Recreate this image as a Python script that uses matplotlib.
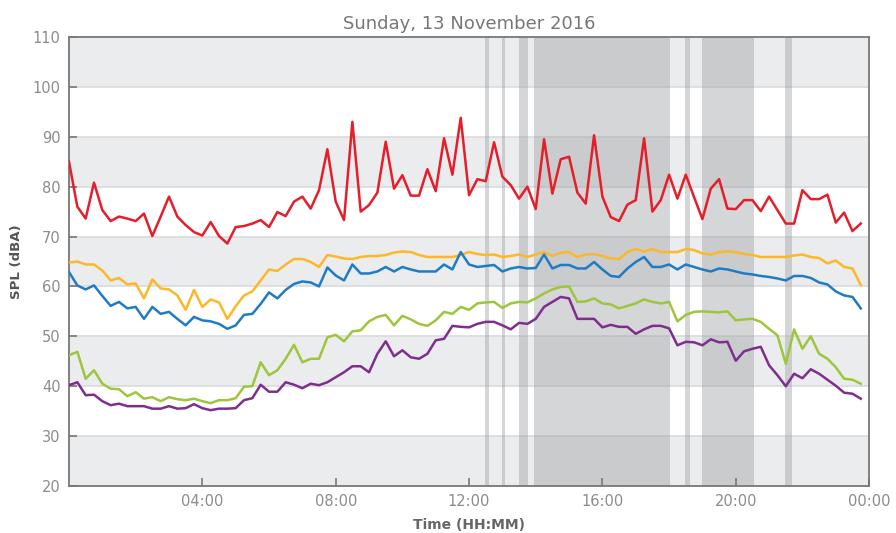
import matplotlib
matplotlib.use("Agg")
import matplotlib.pyplot as plt
import numpy as np

# ---- data (15-minute samples, 00:00 .. 23:45) ----
step_hours = 0.25
red = [85.0, 76.0, 73.6, 80.8, 75.3, 73.1, 74.0, 73.6, 73.1, 74.6, 70.1, 74.0, 78.0, 74.0, 72.3, 70.9,
       70.2, 72.9, 70.1, 68.6, 71.9, 72.1, 72.6, 73.3, 71.9, 74.9, 74.1, 77.0, 78.0, 75.6, 79.3, 87.5,
       77.0, 73.3, 93.0, 75.0, 76.3, 78.8, 89.0, 79.6, 82.3, 78.2, 78.2, 83.5, 79.1, 89.7, 82.4, 93.8,
       78.3, 81.5, 81.1, 88.9, 82.0, 80.3, 77.6, 80.0, 75.5, 89.5, 78.6, 85.5, 86.0, 78.8, 76.6, 90.3,
       78.0, 73.9, 73.1, 76.4, 77.3, 89.7, 75.0, 77.3, 82.4, 77.6, 82.4, 77.9, 73.5, 79.6, 81.5, 75.6,
       75.5, 77.3, 77.3, 75.1, 78.0, 75.3, 72.6, 72.6, 79.3, 77.5, 77.5, 78.4, 72.8, 74.8, 71.1, 72.6]
orange = [64.8, 65.0, 64.4, 64.4, 63.2, 61.2, 61.7, 60.4, 60.6, 57.6, 61.4, 59.6, 59.4, 58.2, 55.3, 59.3,
          55.9, 57.4, 56.8, 53.5, 56.0, 58.2, 59.0, 61.2, 63.4, 63.1, 64.4, 65.5, 65.5, 64.9, 63.9, 66.3,
          66.0, 65.6, 65.5, 65.9, 66.1, 66.1, 66.3, 66.8, 67.0, 66.9, 66.3, 65.9, 65.9, 65.9, 65.9, 66.3,
          66.9, 66.5, 66.3, 66.4, 65.9, 66.1, 66.4, 65.9, 66.4, 66.9, 66.1, 66.8, 66.9, 65.9, 66.4, 66.5,
          66.1, 65.6, 65.5, 66.9, 67.5, 67.0, 67.5, 66.9, 66.9, 66.9, 67.5, 67.3, 66.6, 66.4, 66.9, 67.0,
          66.9, 66.5, 66.3, 65.9, 65.9, 65.9, 65.9, 66.2, 66.4, 65.9, 65.7, 64.6, 65.2, 63.9, 63.6, 60.3]
blue = [62.9, 60.2, 59.4, 60.2, 58.1, 56.1, 56.9, 55.6, 55.9, 53.5, 55.9, 54.5, 54.9, 53.5, 52.2, 53.9,
        53.2, 53.0, 52.5, 51.5, 52.2, 54.3, 54.5, 56.5, 58.8, 57.6, 59.3, 60.5, 61.0, 60.8, 60.0, 63.8,
        62.2, 61.2, 64.4, 62.6, 62.6, 63.0, 63.9, 63.0, 63.9, 63.4, 63.0, 63.0, 63.0, 64.4, 63.4, 66.9,
        64.4, 63.9, 64.1, 64.3, 63.0, 63.6, 63.9, 63.6, 63.7, 66.4, 63.6, 64.3, 64.3, 63.6, 63.6, 64.9,
        63.4, 62.1, 61.9, 63.6, 64.9, 65.9, 63.9, 63.9, 64.4, 63.4, 64.4, 63.9, 63.4, 63.0, 63.6, 63.4,
        63.0, 62.6, 62.4, 62.1, 61.9, 61.6, 61.2, 62.1, 62.1, 61.7, 60.8, 60.4, 59.0, 58.2, 57.9, 55.6]
green = [46.2, 46.9, 41.5, 43.2, 40.5, 39.5, 39.4, 38.0, 38.8, 37.5, 37.8, 37.0, 37.8, 37.4, 37.2, 37.5,
         37.0, 36.6, 37.2, 37.2, 37.6, 39.9, 40.0, 44.8, 42.2, 43.2, 45.5, 48.3, 44.8, 45.5, 45.5, 49.8,
         50.3, 49.0, 51.0, 51.2, 53.0, 53.9, 54.3, 52.2, 54.1, 53.4, 52.5, 52.1, 53.2, 54.9, 54.5, 55.9,
         55.3, 56.6, 56.8, 56.9, 55.7, 56.6, 56.9, 56.8, 57.6, 58.6, 59.4, 59.9, 60.0, 56.9, 57.0, 57.6,
         56.6, 56.4, 55.6, 56.1, 56.6, 57.4, 56.9, 56.6, 56.9, 53.0, 54.3, 54.9, 55.0, 54.9, 54.8, 55.0,
         53.2, 53.4, 53.5, 52.9, 51.5, 50.2, 44.5, 51.4, 47.5, 50.0, 46.5, 45.5, 43.8, 41.5, 41.3, 40.5]
purple = [40.2, 40.8, 38.2, 38.3, 37.0, 36.2, 36.5, 36.0, 36.0, 36.0, 35.5, 35.5, 36.0, 35.5, 35.6, 36.4,
          35.6, 35.2, 35.5, 35.5, 35.6, 37.2, 37.6, 40.3, 38.9, 38.9, 40.8, 40.3, 39.6, 40.5, 40.2, 40.8,
          41.8, 42.8, 44.0, 44.0, 42.8, 46.5, 49.0, 46.0, 47.2, 45.8, 45.5, 46.5, 49.2, 49.5, 52.1, 51.9,
          51.8, 52.5, 52.9, 52.9, 52.2, 51.4, 52.7, 52.5, 53.5, 55.9, 56.9, 57.9, 57.6, 53.5, 53.5, 53.5,
          51.8, 52.3, 51.9, 51.9, 50.5, 51.4, 52.1, 52.1, 51.6, 48.2, 48.9, 48.8, 48.2, 49.4, 48.8, 48.9,
          45.1, 47.0, 47.5, 47.9, 44.2, 42.2, 40.0, 42.5, 41.6, 43.4, 42.5, 41.3, 40.1, 38.7, 38.5, 37.5]

# shaded periods (start hour, end hour)
span_starts = [12.48, 12.98, 13.49, 13.96, 18.48, 18.99, 21.48]
span_ends = [12.60, 13.09, 13.76, 18.04, 18.64, 20.55, 21.68]

x_ticks = [4, 8, 12, 16, 20, 24]
x_tick_labels = ["04:00", "08:00", "12:00", "16:00", "20:00", "00:00"]
y_ticks = [20, 30, 40, 50, 60, 70, 80, 90, 100, 110]

series = [(red, "#e41e2b"), (orange, "#fbb828"), (blue, "#1f7cc4"),
          (green, "#9dc63d"), (purple, "#7e2f8e")]

fig = plt.figure(figsize=(8.96, 5.33), dpi=100)
ax = fig.add_axes([0.077, 0.0882, 0.893, 0.8424])

ax.set_xlim(0, 24)
ax.set_ylim(20, 110)

# alternating horizontal bands
for lo in range(20, 110, 20):
    ax.axhspan(lo, lo + 10, color="#ebecee", zorder=0, lw=0)
ax.axhspan(100, 110, color="#ebecee", zorder=0, lw=0)
for yv in y_ticks[1:-1]:
    ax.axhline(yv, color="#d9dadc", lw=1.2, zorder=0.5)

for s, e in zip(span_starts, span_ends):
    ax.axvspan(s, e, color="#9c9ea1", alpha=0.42, lw=0, zorder=1)

for vals, col in series:
    xs = np.arange(len(vals)) * step_hours
    ax.plot(xs, vals, color=col, lw=1.8, zorder=3, solid_joinstyle="round")

ax.set_xticks(x_ticks)
ax.set_xticklabels(x_tick_labels)
ax.set_yticks(y_ticks)
ax.tick_params(direction="in", length=6, width=1.2, color="#777777",
               labelcolor="#8c8c8c", labelsize=10.5, pad=6)
for sp in ax.spines.values():
    sp.set_color("#777777")
    sp.set_linewidth(1.3)

ax.set_title("Sunday, 13 November 2016", color="#777777", fontsize=13, pad=6)
ax.set_xlabel("Time (HH:MM)", color="#666666", fontsize=10, fontweight="bold", labelpad=6)
ax.set_ylabel("SPL (dBA)", color="#555555", fontsize=9.5, fontweight="bold", labelpad=7)

fig.savefig("out.png", dpi=100)
